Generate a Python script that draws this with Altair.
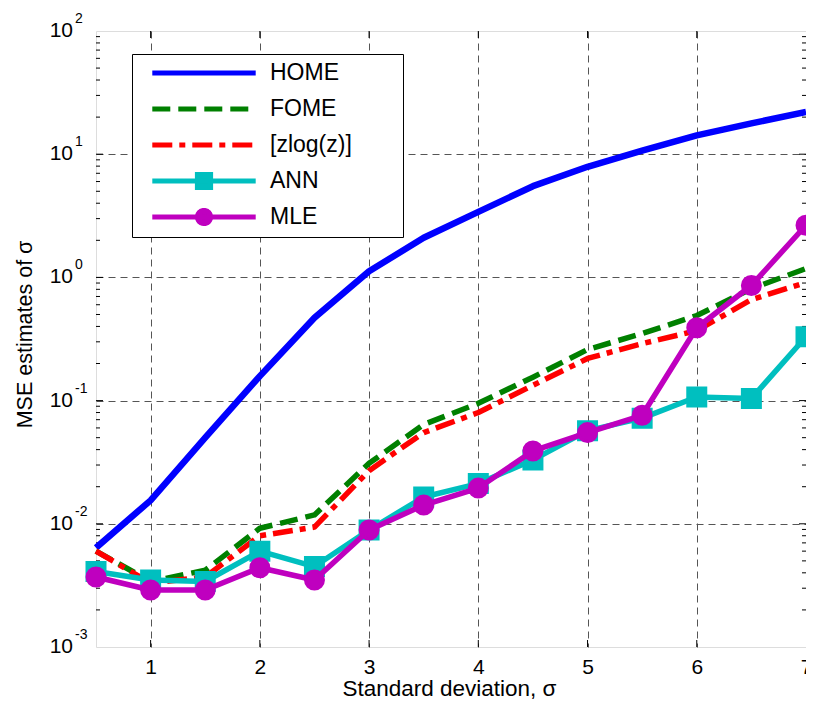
import math
import altair as alt
import pandas as pd

# ---------------- data ----------------
sigma = [0.5, 1.0, 1.5, 2.0, 2.5, 3.0, 3.5, 4.0, 4.5, 5.0, 5.5, 6.0, 6.5, 7.0]
home = [0.0064, 0.0155, 0.050, 0.158, 0.47, 1.12, 2.1, 3.4, 5.5, 7.9, 10.7, 14.2, 17.8, 22.0]
fome = [0.0060, 0.0034, 0.0042, 0.0092, 0.0118, 0.031, 0.064, 0.095, 0.155, 0.26, 0.35, 0.49, 0.81, 1.18]
zlog = [0.0060, 0.0033, 0.0037, 0.0080, 0.0094, 0.027, 0.055, 0.080, 0.133, 0.22, 0.29, 0.37, 0.66, 0.91]
ann = [0.0041, 0.0035, 0.0034, 0.0060, 0.0045, 0.0089, 0.0165, 0.0212, 0.033, 0.057, 0.072, 0.107, 0.104, 0.33]
mle = [0.0037, 0.0029, 0.0029, 0.0044, 0.0035, 0.0089, 0.0142, 0.0195, 0.039, 0.055, 0.076, 0.39, 0.86, 2.65]

series_names = ["HOME", "FOME", "[zlog(z)]", "ANN", "MLE"]
series_values = [home, fome, zlog, ann, mle]
series_colors = ["#0000ff", "#008000", "#ff0000", "#00bfbf", "#bf00bf"]
series_dashes = [[1, 0], [18, 8], [20, 7, 6, 7], [1, 0], [1, 0]]
series_widths = [6.5, 5.5, 5.5, 5.5, 5.5]
series_markers = [None, None, None, "square", "circle"]

x_ticks = [1, 2, 3, 4, 5, 6, 7]
y_decades = [1e-3, 1e-2, 1e-1, 1e0, 1e1, 1e2]
y_exponents = ["-3", "-2", "-1", "0", "1", "2"]
y_minor = [m * d for d in y_decades[:-1] for m in range(2, 10)]

W, H = 710, 616
FONT = "Liberation Sans"

rows = []
for name, vals in zip(series_names, series_values):
    for s, v in zip(sigma, vals):
        rows.append({"sigma": s, "mse": v, "method": name})
df = pd.DataFrame(rows)

# ---------------- scales / axes ----------------
xs = alt.Scale(domain=[0.5, 7], nice=False, zero=False)
ys = alt.Scale(type="log", domain=[1e-3, 1e2], nice=False)

x_axis = alt.Axis(
    values=x_ticks, grid=True, gridDash=[7, 5], gridColor="#555555", gridWidth=1,
    gridOpacity={"condition": {"test": "datum.value >= 7", "value": 0}, "value": 1},
    ticks=False, tickSize=0, domain=False, labelFlush=False,
    labelFontSize=21, labelFont=FONT, labelColor="black", labelPadding=9,
    title="Standard deviation, σ", titleFont=FONT, titleFontSize=22.5,
    titleFontWeight="normal", titleColor="black", titleX=353, titleY=48,
    titleBaseline="alphabetic", titleAlign="center",
)
y_axis = alt.Axis(
    values=y_decades[1:-1], grid=True, gridDash=[7, 5], gridColor="#555555", gridWidth=1,
    labels=False, ticks=False, tickSize=0, domain=False,
    title="MSE estimates of σ", titleFont=FONT, titleFontSize=21.5,
    titleFontWeight="normal", titleColor="black", titleX=-65, titleY=303,
    titleAngle=270, titleBaseline="alphabetic", titleAlign="center",
)


def X(field):
    return alt.X(field, type="quantitative", scale=xs, axis=x_axis)


def Y(field):
    return alt.Y(field, type="quantitative", scale=ys, axis=y_axis)


# ---------------- legend (symbol = line sample + marker) ----------------
MK = 0.489
LINE = "M-3.83,0H3.83"
PAD = f"M13.73,0M0,-{MK}M0,{MK}"
SQUARE = f"M-{MK},-{MK}H{MK}V{MK}H-{MK}Z"
CIRCLE = "M" + "L".join(
    f"{MK * math.cos(2 * math.pi * k / 24):.3f},{MK * math.sin(2 * math.pi * k / 24):.3f}" for k in range(24)
) + "Z"
legend_shapes = [LINE + PAD, LINE + PAD, LINE + PAD, LINE + SQUARE + PAD, LINE + CIRCLE + PAD]

legend = alt.Legend(
    title=None, orient="none", legendX=36, legendY=23, padding=3,
    fillColor="white", strokeColor="black",
    symbolSize=729, symbolStrokeWidth=5, symbolOffset=53, labelOffset=50,
    symbolOpacity=1, labelFontSize=23, labelFont=FONT, labelColor="black",
)
dom = series_names

# ---------------- tick marks (inward) ----------------
xt = pd.DataFrame({"v": x_ticks[:-1]})
ymaj = pd.DataFrame({"v": y_decades[1:-1]})
ymin = pd.DataFrame({"v": y_minor})

layers = []
tick_style = dict(color="black", strokeWidth=1)
layers.append(alt.Chart(xt).mark_rule(**tick_style).encode(x=X("v"), y=alt.value(H - 7), y2=alt.value(H)))
layers.append(alt.Chart(xt).mark_rule(**tick_style).encode(x=X("v"), y=alt.value(0), y2=alt.value(7)))
layers.append(alt.Chart(ymaj).mark_rule(**tick_style).encode(y=Y("v"), x=alt.value(0), x2=alt.value(7)))
layers.append(alt.Chart(ymaj).mark_rule(**tick_style).encode(y=Y("v"), x=alt.value(W - 7), x2=alt.value(W)))
layers.append(alt.Chart(ymin).mark_rule(**tick_style).encode(y=Y("v"), x=alt.value(0), x2=alt.value(4)))
layers.append(alt.Chart(ymin).mark_rule(**tick_style).encode(y=Y("v"), x=alt.value(W - 4), x2=alt.value(W)))

# hidden layer that only feeds the legend
layers.append(
    alt.Chart(df).mark_point(filled=True, opacity=0, strokeWidth=5).encode(
        x=X("sigma"), y=Y("mse"),
        fill=alt.Fill("method:N", scale=alt.Scale(domain=dom, range=series_colors), legend=legend),
        stroke=alt.Stroke("method:N", scale=alt.Scale(domain=dom, range=series_colors), legend=legend),
        shape=alt.Shape("method:N", scale=alt.Scale(domain=dom, range=legend_shapes), legend=legend),
        strokeDash=alt.StrokeDash("method:N", scale=alt.Scale(domain=dom, range=series_dashes), legend=legend),
    )
)

# ---------------- series ----------------
for name, color, dash, width, marker in zip(series_names, series_colors, series_dashes, series_widths, series_markers):
    base = alt.Chart(df).transform_filter(alt.datum.method == name)
    line_kwargs = dict(strokeWidth=width, strokeJoin="round", color=color)
    if dash != [1, 0]:
        line_kwargs["strokeDash"] = dash
    layers.append(base.mark_line(**line_kwargs).encode(x=X("sigma"), y=Y("mse")))
    if marker:
        layers.append(
            base.mark_point(shape=marker, filled=True, size=324, fill=color, stroke=color,
                            strokeWidth=3, opacity=1).encode(x=X("sigma"), y=Y("mse"))
        )

# ---------------- y tick labels 10^k ----------------
ylab = pd.DataFrame({"v": y_decades, "e": y_exponents})
layers.append(
    alt.Chart(ylab).mark_text(text="10", align="right", baseline="middle", fontSize=21,
                              font=FONT, color="black").encode(y=Y("v"), x=alt.value(-23))
)
layers.append(
    alt.Chart(ylab).mark_text(align="left", baseline="alphabetic", fontSize=14, dy=-8,
                              font=FONT, color="black").encode(y=Y("v"), x=alt.value(-21), text="e:N")
)

chart = alt.layer(*layers).properties(
    width=W, height=H,
    autosize=alt.AutoSizeParams(type="none"),
    padding={"left": 88, "top": 23, "right": 0, "bottom": 53},
).configure_view(stroke="black", strokeWidth=1.5).configure(font=FONT)

chart.save("out.html", embed_options={"renderer": "svg", "actions": False})
